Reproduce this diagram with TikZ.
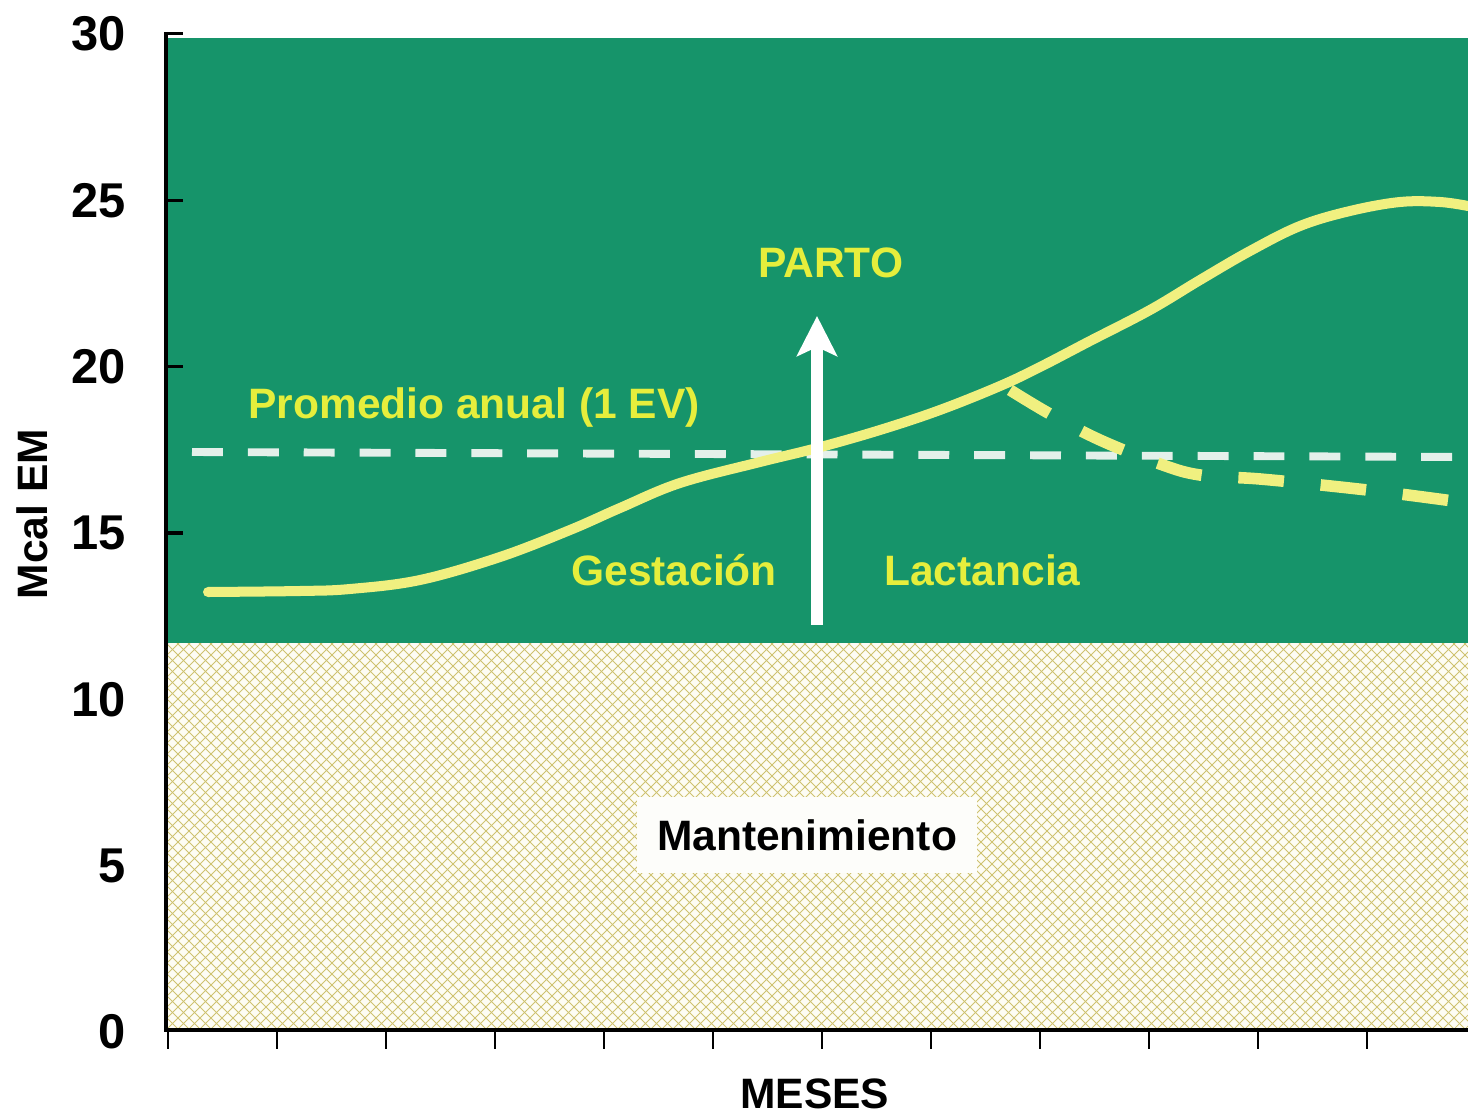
\documentclass[tikz,border=0pt]{standalone}
\usepackage{fontspec}
\setmainfont{Liberation Sans}
\usetikzlibrary{arrows.meta}
\definecolor{bggreen}{RGB}{22,148,106}
\definecolor{txtyellow}{RGB}{230,238,60}
\definecolor{curveyellow}{RGB}{240,240,128}
\definecolor{dashwhite}{RGB}{228,240,234}
\definecolor{hatchline}{RGB}{206,194,112}
\definecolor{hatchbg}{RGB}{253,252,244}
\begin{document}
\begin{tikzpicture}[x=0.02cm,y=-0.02cm,
  lab/.style={font=\fontsize{24.2pt}{28pt}\selectfont\bfseries, inner sep=0pt},
  num/.style={font=\fontsize{27.8pt}{32pt}\selectfont\bfseries, inner sep=0pt, anchor=east},
  hatch/.style={draw=hatchline, line width=0.42pt},
  axisline/.style={black, line width=2.3pt},
  tickline/.style={black, line width=1.2pt},
  ytick/.style={black, line width=1.8pt}]
\useasboundingbox (0,0) rectangle (1468,1115);
\fill[white] (0,0) rectangle (1468,1115);
% hatched maintenance area
\fill[hatchbg] (168,643) rectangle (1468,1030);
\begin{scope}
  \clip (168,643) rectangle (1468,1030);
  \foreach \i in {0,...,156} {
    \draw[hatch] ({-230+11*\i},1030) -- ++(390,-390);
    \draw[hatch] ({-230+11*\i},643) -- ++(390,390);
  }
\end{scope}
% green area
\fill[bggreen] (168,38) rectangle (1468,643);
% annual average dashed line
\coordinate (avgL) at (192,452);
\coordinate (avgR) at (1468,457);
\draw[dashwhite, line width=4.5pt, dash pattern=on 17.6pt off 14.2pt] (avgL) -- (avgR);
% energy requirement curve
\draw[curveyellow, line width=5.7pt, line cap=round]
  plot[smooth, tension=0.6] coordinates {(208,592) (300,591) (350,589) (420,580) (500,557) (570,530) (620,508) (680,483) (760,462) (817,448) (880,430) (940,410) (1000,386) (1040,367) (1090,341) (1150,310) (1200,280) (1250,251) (1300,226) (1350,211) (1400,202) (1440,202) (1468,206)};
% alternative (dashed) curve
\draw[curveyellow, line width=6.6pt, dash pattern=on 26pt off 21pt]
  plot[smooth, tension=0.6] coordinates {(1010,390) (1050,414) (1100,440) (1160,464) (1200,475) (1260,479) (1340,487) (1400,494) (1468,503)};
% parto arrow
\coordinate (arrowbase) at (817,625);
\coordinate (arrowtip) at (817,316);
\draw[white, line width=7.2pt, -{Stealth[length=0.8cm, width=0.8cm, inset=0.18cm]}] (arrowbase) -- (arrowtip);
% texts
\node[lab, txtyellow, anchor=base west] (parto) at (758,277) {PARTO};
\node[lab, txtyellow, anchor=base west] (prom) at (248,418) {Promedio anual (1 EV)};
\node[lab, txtyellow, anchor=base west] (gest) at (571,585) {Gestación};
\node[lab, txtyellow, anchor=base west] (lact) at (884,585) {Lactancia};
\node[lab, black, fill={rgb,255:red,253;green,253;blue,250}, minimum width=6.8cm, minimum height=1.52cm] (mant) at (807,835) {Mantenimiento};
\node[lab, black, anchor=base west] (meses) at (740,1108) {MESES};
\node[lab, black, rotate=90] (mcal) at (32,514) {Mcal EM};
% y labels
\foreach \v/\nm in {0/a,5/b,10/c,15/d,20/e,25/f,30/g} {
  \node[num] (y\nm) at (126,{1032-33.27*\v}) {\v};
}
% axes
\draw[axisline] (166,32) -- (166,1032);
\draw[axisline] (164,1030) -- (1468,1030);
\foreach \v in {15,20,25,30} {
  \draw[ytick] (166,{1032-33.27*\v}) -- ++(17,0);
}
\foreach \i in {0,...,11} {
  \draw[tickline] ({168+109*\i},1030) -- ++(0,19);
}
\end{tikzpicture}
\end{document}
